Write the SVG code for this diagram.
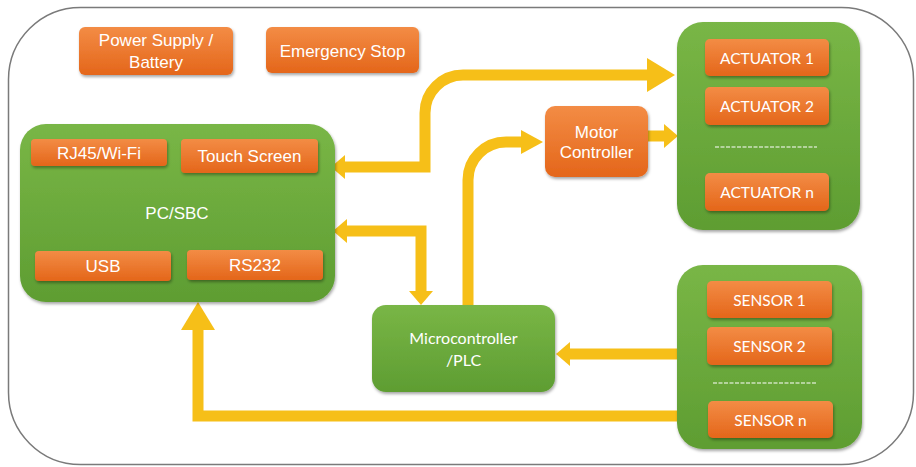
<svg xmlns="http://www.w3.org/2000/svg" width="916" height="467" viewBox="0 0 916 467">
<defs>
  <linearGradient id="gGreen" x1="0" y1="0" x2="0" y2="1">
    <stop offset="0" stop-color="#79b646"/>
    <stop offset="1" stop-color="#5e9d32"/>
  </linearGradient>
  <linearGradient id="gOrange" x1="0" y1="0" x2="0" y2="1">
    <stop offset="0" stop-color="#f38c45"/>
    <stop offset="1" stop-color="#e4661a"/>
  </linearGradient>
  <filter id="shadow" x="-10%" y="-10%" width="125%" height="135%">
    <feDropShadow dx="1" dy="2" stdDeviation="1.5" flood-color="#000" flood-opacity="0.35"/>
  </filter>
  <marker id="hs" viewBox="0 -12 14 24" markerWidth="14" markerHeight="24" refX="0" refY="0" markerUnits="userSpaceOnUse" orient="auto-start-reverse">
    <path d="M0,-12 L14,0 L0,12 z" fill="#f6bf18"/>
  </marker>
  <marker id="hm" viewBox="0 -12 22 24" markerWidth="22" markerHeight="24" refX="0" refY="0" markerUnits="userSpaceOnUse" orient="auto-start-reverse">
    <path d="M0,-12 L22,0 L0,12 z" fill="#f6bf18"/>
  </marker>
  <marker id="hl" viewBox="0 -17 28 34" markerWidth="28" markerHeight="34" refX="0" refY="0" markerUnits="userSpaceOnUse" orient="auto-start-reverse">
    <path d="M0,-17 L28,0 L0,17 z" fill="#f6bf18"/>
  </marker>
  <style>
    .frame { fill: #ffffff; stroke: #7a7a7a; stroke-width: 1.5; }
    .grp { fill: url(#gGreen); filter: url(#shadow); }
    .box { fill: url(#gOrange); filter: url(#shadow); }
    .t { font-family: "Liberation Sans", Arial, sans-serif; font-size: 17px; fill: #ffffff; text-anchor: middle; }
    .c { font-family: Lato, "Open Sans", sans-serif; font-size: 15.5px; fill: #ffffff; text-anchor: middle; }
    .dash { stroke: #ffffff; stroke-width: 1.2; stroke-dasharray: 4 1.5; fill: none; }
    .arrow { fill: none; stroke: #f6bf18; stroke-width: 11; stroke-linejoin: miter; }
  </style>
</defs>

<rect class="frame" x="8.5" y="7.5" width="905" height="457" rx="72" ry="72"/>

<g id="connectors">
  <path class="arrow" d="M345,167 H425 V113 A38,38 0 0 1 463,75 H647" marker-start="url(#hs)" marker-end="url(#hl)"/>
  <path class="arrow" d="M347,231 H421 V291" marker-start="url(#hs)" marker-end="url(#hs)"/>
  <path class="arrow" d="M468,305 V180 A38,38 0 0 1 506,142 H521" marker-end="url(#hm)"/>
  <path class="arrow" d="M648,136 H664" marker-end="url(#hs)"/>
  <path class="arrow" d="M677,354 H570" marker-end="url(#hs)"/>
  <path class="arrow" d="M677,416 H198 V330" marker-end="url(#hl)"/>
</g>

<g id="power-supply">
  <rect class="box" x="79" y="27" width="154" height="48" rx="6"/>
  <text class="t" x="156" y="46">Power Supply /</text>
  <text class="t" x="156" y="68">Battery</text>
</g>

<g id="emergency-stop">
  <rect class="box" x="266" y="27" width="153" height="46" rx="6"/>
  <text class="t" x="342.5" y="57">Emergency Stop</text>
</g>

<g id="pc-sbc">
  <rect class="grp" x="20" y="124" width="315" height="178" rx="26"/>
  <text class="t" x="177" y="219">PC/SBC</text>
  <g id="rj45">
    <rect class="box" x="31" y="139" width="136" height="27" rx="4"/>
    <text class="t" x="99" y="159">RJ45/Wi-Fi</text>
  </g>
  <g id="touch-screen">
    <rect class="box" x="181" y="139" width="137" height="34" rx="4"/>
    <text class="t" x="249.5" y="162">Touch Screen</text>
  </g>
  <g id="usb">
    <rect class="box" x="35" y="251" width="136" height="30" rx="4"/>
    <text class="t" x="103" y="272">USB</text>
  </g>
  <g id="rs232">
    <rect class="box" x="187" y="250" width="136" height="30" rx="4"/>
    <text class="t" x="255" y="271">RS232</text>
  </g>
</g>

<g id="motor-controller">
  <rect class="box" x="545" y="106" width="103" height="71" rx="10"/>
  <text class="t" x="596.5" y="138">Motor</text>
  <text class="t" x="596.5" y="158">Controller</text>
</g>

<g id="microcontroller">
  <rect class="grp" x="372" y="305" width="183" height="87" rx="14"/>
  <text class="c" x="463.5" y="344" style="font-size:16px">Microcontroller</text>
  <text class="c" x="463.5" y="366" style="font-size:16px">/PLC</text>
</g>

<g id="actuators">
  <rect class="grp" x="677" y="22" width="183" height="208" rx="26"/>
  <g id="actuator-1">
    <rect class="box" x="705" y="39" width="124" height="37" rx="5"/>
    <text class="c" x="767" y="64">ACTUATOR 1</text>
  </g>
  <g id="actuator-2">
    <rect class="box" x="705" y="87" width="124" height="38" rx="5"/>
    <text class="c" x="767" y="112">ACTUATOR 2</text>
  </g>
  <line class="dash" x1="715" y1="147" x2="817" y2="147"/>
  <g id="actuator-n">
    <rect class="box" x="705" y="173" width="124" height="38" rx="5"/>
    <text class="c" x="767" y="198">ACTUATOR n</text>
  </g>
</g>

<g id="sensors">
  <rect class="grp" x="677" y="265" width="185" height="184" rx="26"/>
  <g id="sensor-1">
    <rect class="box" x="707" y="281" width="125" height="37" rx="5"/>
    <text class="c" x="769.5" y="306">SENSOR 1</text>
  </g>
  <g id="sensor-2">
    <rect class="box" x="707" y="327" width="125" height="38" rx="5"/>
    <text class="c" x="769.5" y="352">SENSOR 2</text>
  </g>
  <line class="dash" x1="713" y1="383" x2="816" y2="383"/>
  <g id="sensor-n">
    <rect class="box" x="708" y="401" width="125" height="37" rx="5"/>
    <text class="c" x="770.5" y="426">SENSOR n</text>
  </g>
</g>
</svg>
